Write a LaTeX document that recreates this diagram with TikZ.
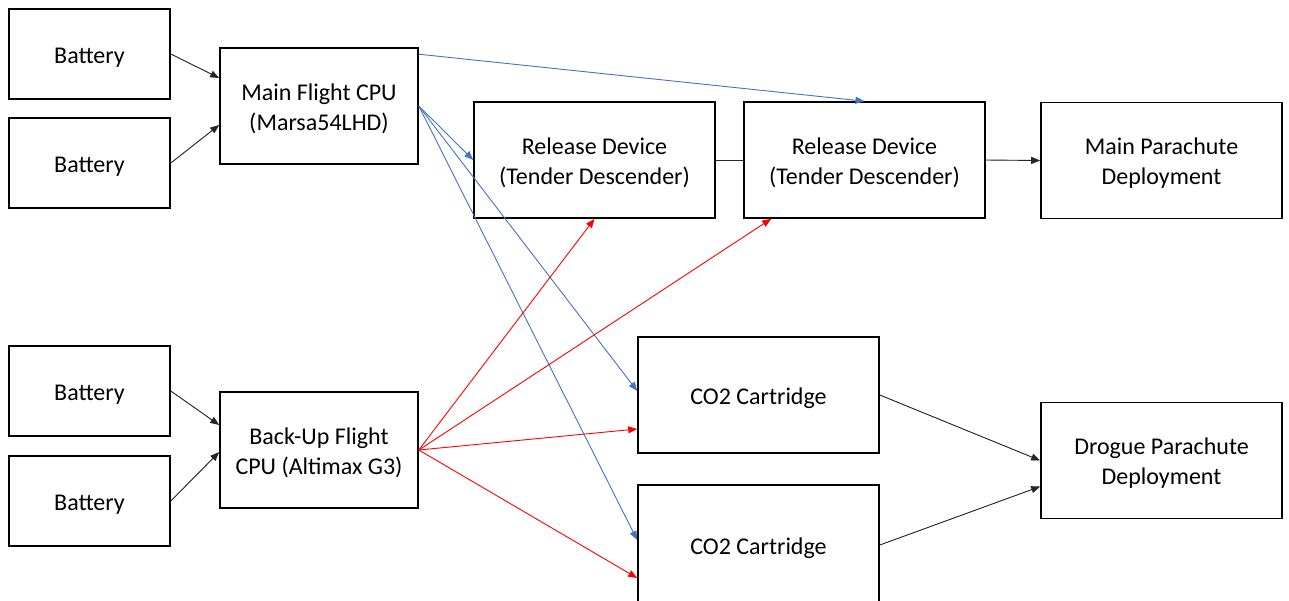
\documentclass[tikz,border=0pt]{standalone}
\usepackage{fontspec}
\setmainfont{Carlito}
\usetikzlibrary{arrows.meta}
\definecolor{cpublue}{HTML}{4472C4}
\definecolor{bkred}{HTML}{FF0000}
% box text, set a little below the geometric centre of its box
\newcommand{\boxtext}[1]{\raisebox{-3pt}[\height][\depth]{\begin{tabular}{@{}c@{}}#1\end{tabular}}}
\tikzset{
  unit/.style={draw=black, line width=1.6pt, fill=white, inner sep=0pt,
    align=center, font=\fontsize{24}{30}\selectfont},
  batt/.style={unit, minimum width=161pt, minimum height=90pt},
  cpu/.style={unit, minimum width=198pt, minimum height=116pt},
  wide/.style={unit, minimum width=241pt, minimum height=116pt},
  link/.style={line width=0.9pt, -{Triangle[length=9pt,width=7pt]}},
  plain/.style={line width=0.9pt, draw=black!85},
  blk/.style={link, draw=black!85, fill=black},
  blu/.style={link, draw=cpublue, -{Triangle[length=9pt,width=7pt,fill=cpublue]}},
  rd/.style={link, draw=bkred, -{Triangle[length=9pt,width=7pt,fill=bkred]}}
}
\begin{document}
\begin{tikzpicture}[x=1pt, y=-1pt]
\useasboundingbox (0,0) rectangle (1289,600);
\clip (0,0) rectangle (1289,600);

% power sources
\node[batt] (b1) at (89.5,54) {\boxtext{Battery}};
\node[batt] (b2) at (89.5,163) {\boxtext{Battery}};
\node[batt] (b3) at (89.5,391) {\boxtext{Battery}};
\node[batt] (b4) at (89.5,501) {\boxtext{Battery}};

% flight computers
\node[cpu] (main) at (319,106) {\boxtext{Main Flight CPU\\(Marsa54LHD)}};
\node[cpu] (backup) at (319,450) {\boxtext{Back-Up Flight\\CPU (Altimax G3)}};

% release devices and parachutes
\node[wide] (rel1) at (594.5,160) {\boxtext{Release Device\\(Tender Descender)}};
\node[wide] (rel2) at (864.5,160) {\boxtext{Release Device\\(Tender Descender)}};
\node[wide] (mainchute) at (1161.5,160.5) {\boxtext{Main Parachute\\Deployment}};

% CO2 cartridges and drogue
\node[wide] (co2a) at (758.5,395) {\boxtext{CO2 Cartridge}};
\node[wide, minimum height=120pt] (co2b) at (758.5,545) {\boxtext{CO2 Cartridge}};
\node[wide] (drogue) at (1161.5,460.5) {\boxtext{Drogue Parachute\\Deployment}};

% battery feeds
\draw[blk] (b1.east) -- ([yshift=28pt]main.west);
\draw[blk] (b2.east) -- ([yshift=-19pt]main.west);
\draw[blk] (b3.east) -- ([yshift=25pt]backup.west);
\draw[blk] (b4.east) -- ([yshift=-2pt]backup.west);

% main flight computer outputs
\draw[blu] ([yshift=-7pt]main.north east) -- (rel2.north);
\draw[blu] (main.east) -- (rel1.west);
\draw[blu] (main.east) -- ([yshift=4pt]co2a.west);
\draw[blu] (main.east) -- ([yshift=5pt]co2b.west);

% back-up flight computer outputs
\draw[rd] (backup.east) -- (rel1.south);
\draw[rd] (backup.east) -- ([xshift=28pt]rel2.south west);
\draw[rd] (backup.east) -- ([yshift=-34pt]co2a.west);
\draw[rd] (backup.east) -- ([yshift=-33pt]co2b.west);

% release chain and parachute deployment
\draw[plain] (rel1.east) -- (rel2.west);
\draw[blk] (rel2.east) -- (mainchute.west);
\draw[blk] (co2a.east) -- (drogue.west);
\draw[blk] (co2b.east) -- ([yshift=-26pt]drogue.west);
\end{tikzpicture}
\end{document}
